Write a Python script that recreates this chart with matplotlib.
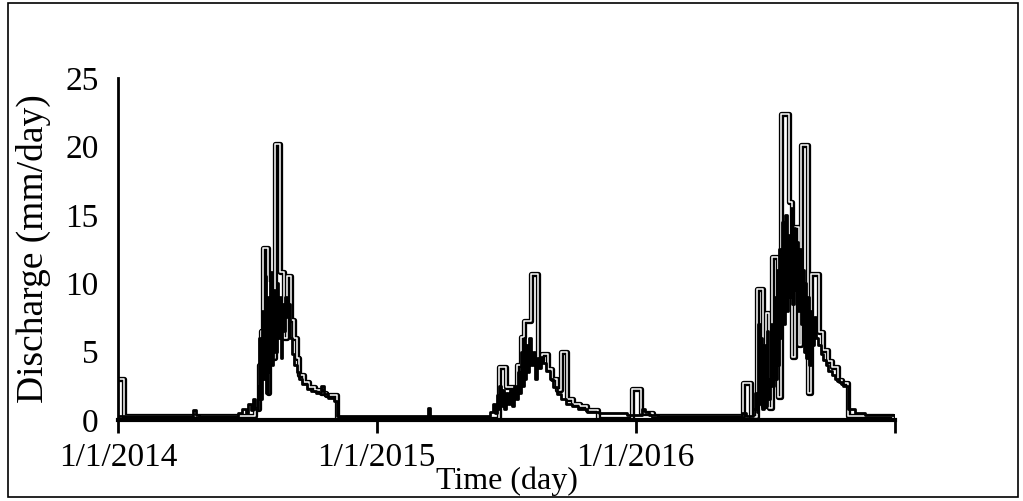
import matplotlib
matplotlib.use('Agg')
import matplotlib.pyplot as plt
import matplotlib.patheffects as pe
from matplotlib.patches import Rectangle
import pandas as pd

plt.rcParams['font.family'] = ['Liberation Serif', 'DejaVu Serif']

# observed discharge (outlined line), step values starting at each date
obs_dates = ['2014-01-01', '2014-01-09', '2014-07-14', '2014-07-19', '2014-07-22', '2014-07-25',
             '2014-07-31', '2014-08-02', '2014-08-06', '2014-08-11', '2014-08-18', '2014-08-23',
             '2014-08-27', '2014-09-02', '2014-09-06', '2014-09-10', '2014-09-14', '2014-09-20',
             '2014-09-27', '2014-10-06', '2014-10-14', '2014-10-22', '2014-11-06',
             '2015-06-22', '2015-07-02', '2015-07-18', '2015-07-24', '2015-07-28', '2015-08-06',
             '2015-08-16', '2015-08-22', '2015-08-30', '2015-09-05', '2015-09-12', '2015-09-18',
             '2015-09-26', '2015-10-05', '2015-10-14', '2015-10-25', '2015-11-09', '2015-12-27',
             '2016-01-09', '2016-01-25',
             '2016-06-01', '2016-06-12', '2016-06-20', '2016-06-29', '2016-07-03', '2016-07-07',
             '2016-07-12', '2016-07-20', '2016-07-24', '2016-08-04', '2016-08-08', '2016-08-13',
             '2016-08-18', '2016-08-22', '2016-08-31', '2016-09-05', '2016-09-16', '2016-09-22',
             '2016-09-28', '2016-10-04', '2016-10-12', '2016-10-18', '2016-10-26', '2016-12-29',
             '2017-01-01']
obs_vals = [3.0, 0.3, 0.8, 4.0, 6.5, 12.6, 2.0, 10.0, 4.5, 20.2, 10.8, 6.0,
            10.5, 7.3, 6.0, 4.5, 3.3, 2.8, 2.4, 2.2, 2.0, 1.8, 0.1,
            3.9, 2.4, 4.0, 6.1, 7.2, 10.7, 4.4, 4.8, 3.7, 3.0, 2.2, 5.0,
            1.5, 1.2, 1.0, 0.7, 0.1, 2.3, 0.5, 0.3,
            2.7, 0.2, 9.6, 1.0, 7.8, 0.9, 11.9, 1.7, 22.4, 15.9, 4.6, 14.1,
            5.5, 20.1, 2.0, 10.7, 6.4, 5.1, 4.3, 3.9, 2.9, 2.7, 0.3, 0.1,
            0.1]

# simulated discharge (thin line)
sim14_dates = ['2014-01-01', '2014-04-17', '2014-04-21', '2014-04-26', '2014-06-20', '2014-06-25',
               '2014-06-30', '2014-07-04', '2014-07-08', '2014-07-11', '2014-07-14', '2014-07-17',
               '2014-07-19', '2014-07-21', '2014-07-23', '2014-07-25', '2014-07-27', '2014-07-29',
               '2014-07-31', '2014-08-02', '2014-08-04', '2014-08-06', '2014-08-08', '2014-08-10',
               '2014-08-13', '2014-08-15', '2014-08-17', '2014-08-19', '2014-08-21', '2014-08-23',
               '2014-08-25', '2014-08-27', '2014-08-29', '2014-09-01', '2014-09-04', '2014-09-07',
               '2014-09-10', '2014-09-14', '2014-09-18', '2014-09-24', '2014-09-30', '2014-10-08',
               '2014-10-14', '2014-10-18', '2014-10-24', '2014-11-02', '2014-11-06']
sim14_vals = [0.3, 0.7, 0.4, 0.3, 0.5, 0.8, 0.5, 1.2, 0.7, 1.5, 0.8, 2.5,
              6.0, 1.5, 8.0, 3.0, 10.5, 2.0, 9.0, 3.5, 10.8, 4.0, 9.5, 5.0,
              10.0, 6.0, 9.0, 4.5, 8.5, 6.5, 9.0, 7.5, 8.5, 6.0, 4.8, 4.0,
              3.5, 3.0, 2.6, 2.3, 2.1, 2.0, 2.5, 1.9, 1.6, 1.4, 0.3]

sim15_dates = ['2015-03-14', '2015-03-17', '2015-06-10', '2015-06-14', '2015-06-17', '2015-06-19',
               '2015-06-21', '2015-06-23', '2015-06-25', '2015-06-27', '2015-06-30', '2015-07-02',
               '2015-07-05', '2015-07-08', '2015-07-11', '2015-07-14', '2015-07-16', '2015-07-19',
               '2015-07-21', '2015-07-23', '2015-07-25', '2015-07-27', '2015-07-29', '2015-07-31',
               '2015-08-02', '2015-08-04', '2015-08-06', '2015-08-09', '2015-08-12', '2015-08-15',
               '2015-08-18', '2015-08-21', '2015-08-24', '2015-08-28', '2015-09-02', '2015-09-07',
               '2015-09-12', '2015-09-18', '2015-09-25', '2015-10-03', '2015-10-12', '2015-10-25',
               '2015-11-10', '2015-12-20', '2016-01-10', '2016-01-14', '2016-01-20', '2016-02-01']
sim15_vals = [0.9, 0.3, 0.6, 1.2, 0.5, 1.8, 0.8, 2.5, 1.0, 2.2, 0.8, 2.0,
              1.2, 2.2, 1.0, 2.5, 1.5, 3.5, 2.0, 5.0, 2.5, 6.0, 3.0, 5.5,
              3.5, 6.0, 4.0, 5.0, 3.0, 4.5, 3.8, 4.6, 4.2, 3.6, 3.0, 2.4,
              1.9, 1.5, 1.2, 1.0, 0.8, 0.6, 0.5, 0.4, 0.8, 0.6, 0.4, 0.3]

sim16_dates = ['2016-05-30', '2016-06-05', '2016-06-15', '2016-06-18', '2016-06-20', '2016-06-22',
               '2016-06-24', '2016-06-26', '2016-06-28', '2016-06-30', '2016-07-02', '2016-07-04',
               '2016-07-06', '2016-07-08', '2016-07-10', '2016-07-12', '2016-07-14', '2016-07-16',
               '2016-07-18', '2016-07-20', '2016-07-22', '2016-07-24', '2016-07-26', '2016-07-28',
               '2016-07-30', '2016-08-01', '2016-08-03', '2016-08-05', '2016-08-07', '2016-08-09',
               '2016-08-11', '2016-08-13', '2016-08-15', '2016-08-17', '2016-08-19', '2016-08-21',
               '2016-08-23', '2016-08-25', '2016-08-27', '2016-08-29', '2016-08-31', '2016-09-02',
               '2016-09-04', '2016-09-06', '2016-09-09', '2016-09-12', '2016-09-15', '2016-09-18',
               '2016-09-21', '2016-09-25', '2016-09-29', '2016-10-04', '2016-10-09', '2016-10-14',
               '2016-10-20', '2016-10-26', '2016-11-05', '2016-11-20', '2017-01-01']
sim16_vals = [0.5, 0.3, 0.8, 2.0, 0.6, 7.0, 1.2, 6.0, 0.8, 5.5, 1.0, 6.5,
              1.5, 3.0, 7.0, 2.5, 9.0, 3.0, 11.0, 4.0, 12.5, 6.0, 14.5, 7.0,
              15.0, 8.0, 13.5, 9.0, 15.5, 8.5, 14.0, 9.5, 13.0, 8.0, 12.5, 7.0,
              11.0, 5.0, 10.0, 4.5, 9.0, 4.0, 8.0, 5.5, 7.5, 6.0, 5.5, 4.8,
              4.4, 4.0, 3.6, 3.3, 3.0, 2.8, 2.5, 0.8, 0.5, 0.4, 0.3]

year_ticks = ['2014-01-01', '2015-01-01', '2016-01-01', '2017-01-01']
year_labels = ['1/1/2014', '1/1/2015', '1/1/2016', '']
y_ticks = [0, 5, 10, 15, 20, 25]

fig = plt.figure(figsize=(10.23, 5.01), dpi=100)
ax = fig.add_axes([0.1153, 0.1617, 0.7596, 0.6826])

# outlined line: thick black stroke with a white core
ax.plot(pd.to_datetime(obs_dates), obs_vals, drawstyle='steps-post', color='white', lw=1.1,
        path_effects=[pe.Stroke(linewidth=3.8, foreground='black'), pe.Normal()], zorder=2)
ax.plot(pd.to_datetime(sim14_dates + sim15_dates + sim16_dates), sim14_vals + sim15_vals + sim16_vals,
        drawstyle='steps-post', color='black', lw=2.0, zorder=3)

ax.set_xlim(pd.Timestamp('2014-01-01'), pd.Timestamp('2017-01-01'))
ax.set_ylim(0, 25)
ax.set_yticks(y_ticks)
ax.set_xticks(pd.to_datetime(year_ticks))
ax.set_xticklabels(year_labels)
ax.tick_params(axis='y', length=0, pad=14, labelsize=24)
ax.tick_params(axis='x', length=9, width=2, direction='out', pad=7, labelsize=24)

for s in ['top', 'right']:
    ax.spines[s].set_visible(False)
ax.spines['left'].set_linewidth(2)
ax.spines['bottom'].set_linewidth(3)
ax.spines['left'].set_zorder(5)
ax.spines['bottom'].set_zorder(5)

ax.set_ylabel('Discharge (mm/day)', fontsize=27)
ax.yaxis.set_label_coords(-0.086, 0.5)
ax.set_xlabel('Time (day)', fontsize=23)
ax.xaxis.set_label_coords(0.5, -0.135)

# border round the whole chart
fig.patches.append(Rectangle((0.0078, 0.008), 0.9873, 0.986, transform=fig.transFigure,
                             fill=False, lw=1.2, ec='black'))

fig.savefig('out.png', dpi=100)
